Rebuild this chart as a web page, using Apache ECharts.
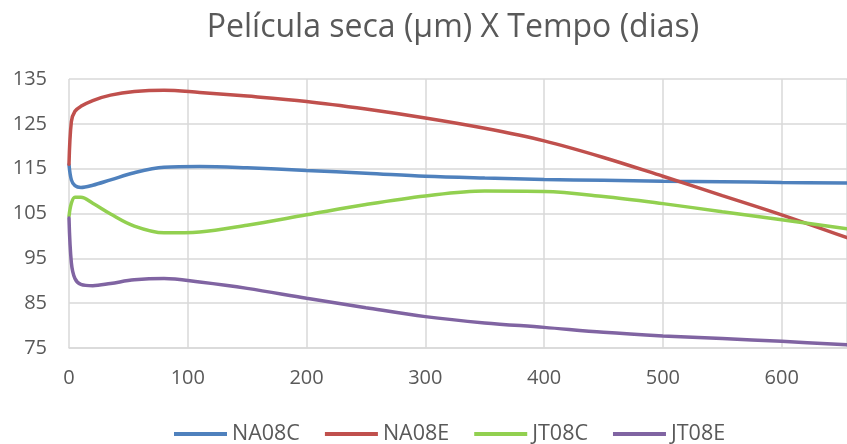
<!DOCTYPE html>
<html>
<head>
<meta charset="utf-8">
<script src="https://cdn.jsdelivr.net/npm/echarts@6/dist/echarts.min.js"></script>
<style>html,body{margin:0;padding:0;background:#fff}#c{width:847px;height:444px}</style>
</head>
<body>
<div id="c"></div>
<script>
var days   = [0, 2, 5, 10, 20, 35, 55, 80, 110, 150, 200, 250, 300, 350, 400, 450, 500, 550, 600, 655];
var na08c  = [115.9, 112.5, 111.2, 110.8, 111.3, 112.5, 114.1, 115.3, 115.5, 115.2, 114.6, 114.0, 113.3, 112.9, 112.6, 112.4, 112.2, 112.1, 111.9, 111.8];
var na08e  = [116.0, 125.5, 127.8, 128.9, 130.2, 131.4, 132.2, 132.5, 132.0, 131.2, 130.0, 128.3, 126.3, 124.0, 121.2, 117.5, 113.3, 109.0, 104.7, 99.6];
var jt08c  = [104.4, 107.3, 108.6, 108.6, 107.3, 104.9, 102.2, 100.7, 100.9, 102.4, 104.7, 107.0, 108.9, 110.0, 109.9, 108.8, 107.2, 105.4, 103.6, 101.6];
var jt08e  = [104.0, 94.0, 90.5, 89.2, 88.9, 89.4, 90.2, 90.5, 89.7, 88.3, 86.1, 84.0, 82.0, 80.6, 79.6, 78.5, 77.7, 77.1, 76.5, 75.7];
var names  = ['NA08C', 'NA08E', 'JT08C', 'JT08E'];
var colors = ['#4F81BD', '#C0504D', '#92D050', '#8064A2'];
var titleText = 'Película seca (µm) X Tempo (dias)';

function pairs(ys){ return days.map(function(d,i){ return [d, ys[i]]; }); }
var all = [na08c, na08e, jt08c, jt08e];
var FONT = '"Open Sans", sans-serif';
var chart = echarts.init(document.getElementById('c'), null, {renderer:'canvas'});
chart.setOption({
  animation: false,
  backgroundColor: '#fff',
  title: {
    text: titleText, left: 448, top: 7, textAlign: 'center',
    textStyle: {fontFamily: FONT, fontSize: 32, fontWeight: 'normal', color: '#595959'}
  },
  legend: {
    data: names, left: 174, top: 423, icon: 'rect', itemWidth: 53, itemHeight: 4, itemGap: 25,
    textStyle: {fontFamily: FONT, fontSize: 21.5, color: '#595959'},
    padding: 0
  },
  grid: {left: 69, right: 0, top: 79, bottom: 96, containLabel: false},
  xAxis: {
    type: 'value', min: 0, max: 655, interval: 100,
    axisLine: {show: true, lineStyle: {color: '#D9D9D9', width: 1.5}},
    axisTick: {show: false},
    splitLine: {show: true, lineStyle: {color: '#D9D9D9', width: 1.5}},
    axisLabel: {fontFamily: FONT, fontSize: 20, color: '#595959', margin: 20, showMaxLabel: false}
  },
  yAxis: {
    type: 'value', min: 75, max: 135, interval: 10,
    axisLine: {show: false}, axisTick: {show: false},
    splitLine: {show: true, lineStyle: {color: '#D9D9D9', width: 1.5}},
    axisLabel: {fontFamily: FONT, fontSize: 20, color: '#595959', margin: 22}
  },
  series: names.map(function(n, i){
    return {
      name: n, type: 'line', data: pairs(all[i]), showSymbol: false, symbol: 'none',
      smooth: 0.35,
      lineStyle: {color: colors[i], width: 3.5, cap: 'round'},
      itemStyle: {color: colors[i]}
    };
  })
});
</script>
</body>
</html>
